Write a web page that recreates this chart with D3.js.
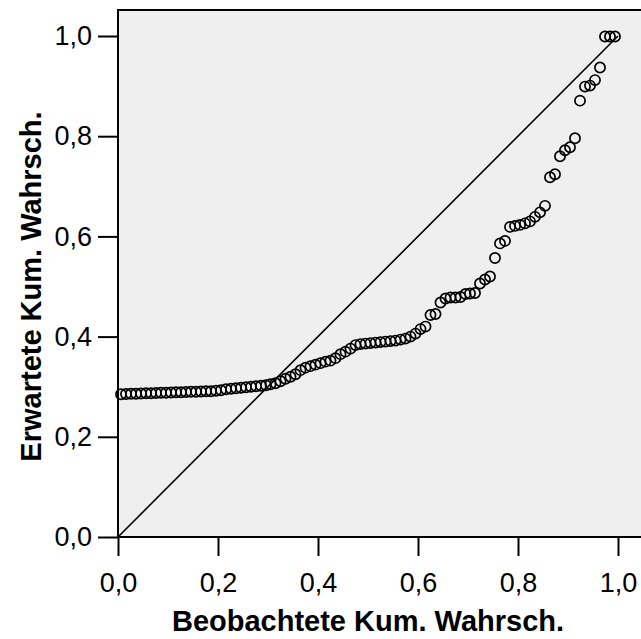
<!DOCTYPE html>
<html>
<head>
<meta charset="utf-8">
<script src="https://cdnjs.cloudflare.com/ajax/libs/d3/7.8.5/d3.min.js"></script>
<style>
  body { margin: 0; background: #fff; }
  .axis text { font-family: "Liberation Sans", Arial, sans-serif; font-size: 27px; fill: #000; }
  .axis line { stroke: #000; stroke-width: 2px; }
  .axis path { display: none; }
  .title { font-family: "Liberation Sans", Arial, sans-serif; font-weight: bold; font-size: 29px; fill: #000; }
</style>
</head>
<body>
<div class="pp_plot"></div>
<script>
// P-P plot: observed cumulative probability vs expected cumulative probability
var observed = [
  0.006,0.016,0.026,0.036,0.046,0.056,0.066,0.076,0.086,0.096,
  0.106,0.116,0.126,0.136,0.146,0.156,0.166,0.176,0.186,0.196,
  0.206,0.216,0.226,0.236,0.246,0.256,0.266,0.276,0.286,0.296,
  0.305,0.315,0.325,0.335,0.345,0.355,0.365,0.375,0.385,0.395,
  0.405,0.415,0.425,0.435,0.445,0.455,0.465,0.475,0.485,0.495,
  0.505,0.515,0.525,0.535,0.545,0.555,0.565,0.575,0.585,0.595,
  0.605,0.615,0.625,0.635,0.645,0.655,0.665,0.675,0.685,0.695,
  0.704,0.714,0.724,0.734,0.744,0.754,0.764,0.774,0.784,0.794,
  0.804,0.814,0.824,0.834,0.844,0.854,0.864,0.874,0.884,0.894,
  0.904,0.914,0.924,0.934,0.944,0.954,0.964,0.974,0.984,0.994
];

var expected = [
  0.285,0.2855,0.286,0.286,0.2865,0.287,0.287,0.2875,0.288,0.288,
  0.2885,0.289,0.289,0.2895,0.290,0.290,0.2905,0.291,0.291,0.292,
  0.293,0.295,0.296,0.297,0.298,0.299,0.300,0.301,0.302,0.303,
  0.305,0.307,0.311,0.316,0.320,0.325,0.333,0.338,0.341,0.344,
  0.347,0.350,0.352,0.357,0.365,0.370,0.376,0.383,0.385,0.386,
  0.387,0.388,0.389,0.390,0.391,0.392,0.394,0.396,0.400,0.406,
  0.415,0.420,0.443,0.445,0.468,0.476,0.478,0.478,0.479,0.485,
  0.486,0.487,0.506,0.514,0.520,0.557,0.586,0.591,0.619,0.621,
  0.623,0.626,0.630,0.639,0.648,0.661,0.718,0.724,0.760,0.772,
  0.778,0.796,0.871,0.899,0.901,0.912,0.937,0.999,0.999,0.999
];

var tickValues = [0, 0.2, 0.4, 0.6, 0.8, 1.0];
var tickLabels = ["0,0", "0,2", "0,4", "0,6", "0,8", "1,0"];

var xTitle = "Beobachtete Kum. Wahrsch.";
var yTitle = "Erwartete Kum. Wahrsch.";

var   svg    = d3.select(".pp_plot").append("svg").attr("width", 641).attr("height", 639),
      margin = {top: 36, left: 118},
      width  = 500,
      height = 501,
      x      = d3.scaleLinear().domain([0, 1]).range([0, width]),
      y      = d3.scaleLinear().domain([0, 1]).range([height, 0]),
      g      = svg.append("g")
                  .attr("transform", `translate(${margin.left},${margin.top})`);

// grey plot area, it runs a bit past 1.0 on the top and right
g.append("rect")
    .attr("x", x(0))
    .attr("y", y(1.052))
    .attr("width", x(1.06) - x(0))
    .attr("height", y(0) - y(1.052))
    .attr("fill", "#efefef")
    .attr("stroke", "none");

// frame lines (left, top, bottom)
g.append("path")
    .attr("d", `M${x(1.06)},${y(0)}H${x(0)}V${y(1.052)}H${x(1.06)}`)
    .attr("fill", "none")
    .attr("stroke", "#000")
    .attr("stroke-width", 2);

g.append("g")
    .attr("class", "axis axis-x")
    .attr("transform", `translate(0,${height})`)
    .call(d3.axisBottom(x).tickValues(tickValues).tickSize(19).tickPadding(17)
      .tickFormat((d, i) => tickLabels[i]));

g.append("g")
    .attr("class", "axis axis-y")
    .call(d3.axisLeft(y).tickValues(tickValues).tickSize(20).tickPadding(6)
      .tickFormat((d, i) => tickLabels[i]));

// reference diagonal
g.append("line")
    .attr("x1", x(0)).attr("y1", y(0))
    .attr("x2", x(1)).attr("y2", y(1))
    .attr("stroke", "#000")
    .attr("stroke-width", 1.6);

var points = observed.map((d, i) => ({obs: d, exp: expected[i]}));

g.selectAll(".dot")
  .data(points)
  .enter().append("circle")
    .attr("class", "dot")
    .attr("cx", d => x(d.obs))
    .attr("cy", d => y(d.exp))
    .attr("r", 5.1)
    .attr("fill", "none")
    .attr("stroke", "#000")
    .attr("stroke-width", 1.7);

svg.append("text")
    .attr("class", "title")
    .attr("x", margin.left + width / 2)
    .attr("y", 631)
    .attr("text-anchor", "middle")
    .text(xTitle);

svg.append("text")
    .attr("class", "title")
    .attr("transform", `translate(41,${margin.top + height / 2}) rotate(-90)`)
    .attr("text-anchor", "middle")
    .text(yTitle);
</script>
</body>
</html>
